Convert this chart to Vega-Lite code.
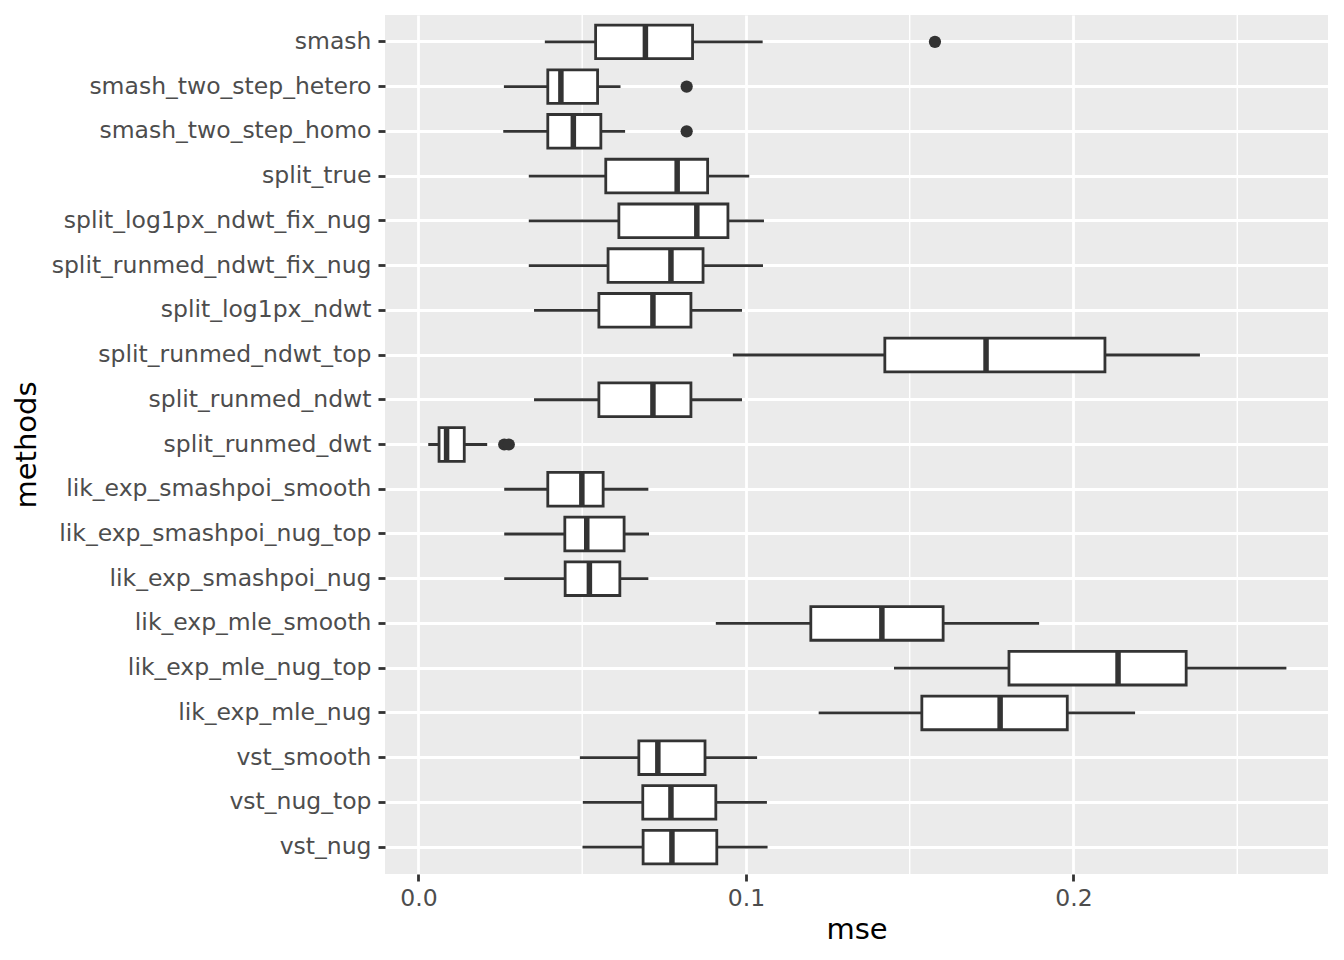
{
  "$schema": "https://vega.github.io/schema/vega-lite/v6.json",
  "width": 943,
  "height": 859,
  "autosize": "none",
  "padding": {"left": 385, "top": 15, "right": 16, "bottom": 86},
  "background": "white",
  "datasets": {
    "boxes": [
      {"method": "smash", "lo": 0.0386, "q1": 0.0541, "med": 0.0693, "q3": 0.0837, "hi": 0.1051},
      {"method": "smash_two_step_hetero", "lo": 0.0261, "q1": 0.0395, "med": 0.0435, "q3": 0.0547, "hi": 0.0617},
      {"method": "smash_two_step_homo", "lo": 0.0259, "q1": 0.0395, "med": 0.0473, "q3": 0.0557, "hi": 0.0631},
      {"method": "split_true", "lo": 0.0337, "q1": 0.0572, "med": 0.079, "q3": 0.0883, "hi": 0.101},
      {"method": "split_log1px_ndwt_fix_nug", "lo": 0.0337, "q1": 0.0612, "med": 0.085, "q3": 0.0945, "hi": 0.1055},
      {"method": "split_runmed_ndwt_fix_nug", "lo": 0.0337, "q1": 0.0579, "med": 0.0771, "q3": 0.0869, "hi": 0.1052},
      {"method": "split_log1px_ndwt", "lo": 0.0353, "q1": 0.0551, "med": 0.0716, "q3": 0.0832, "hi": 0.0988},
      {"method": "split_runmed_ndwt_top", "lo": 0.096, "q1": 0.1424, "med": 0.1733, "q3": 0.2096, "hi": 0.2386},
      {"method": "split_runmed_ndwt", "lo": 0.0353, "q1": 0.0551, "med": 0.0716, "q3": 0.0832, "hi": 0.0988},
      {"method": "split_runmed_dwt", "lo": 0.003, "q1": 0.0063, "med": 0.0086, "q3": 0.014, "hi": 0.021},
      {"method": "lik_exp_smashpoi_smooth", "lo": 0.0262, "q1": 0.0395, "med": 0.0499, "q3": 0.0564, "hi": 0.0702},
      {"method": "lik_exp_smashpoi_nug_top", "lo": 0.0262, "q1": 0.0447, "med": 0.0514, "q3": 0.0628, "hi": 0.0704},
      {"method": "lik_exp_smashpoi_nug", "lo": 0.0262, "q1": 0.0448, "med": 0.0522, "q3": 0.0615, "hi": 0.0702},
      {"method": "lik_exp_mle_smooth", "lo": 0.0908, "q1": 0.1198, "med": 0.1415, "q3": 0.1602, "hi": 0.1895},
      {"method": "lik_exp_mle_nug_top", "lo": 0.1452, "q1": 0.1803, "med": 0.2136, "q3": 0.2344, "hi": 0.265},
      {"method": "lik_exp_mle_nug", "lo": 0.1222, "q1": 0.1537, "med": 0.1776, "q3": 0.1981, "hi": 0.2188},
      {"method": "vst_smooth", "lo": 0.0493, "q1": 0.0673, "med": 0.0731, "q3": 0.0875, "hi": 0.1034},
      {"method": "vst_nug_top", "lo": 0.0502, "q1": 0.0685, "med": 0.0771, "q3": 0.0908, "hi": 0.1064},
      {"method": "vst_nug", "lo": 0.0501, "q1": 0.0686, "med": 0.0774, "q3": 0.0911, "hi": 0.1066}
    ],
    "outliers": [
      {"method": "smash", "mse": 0.1577},
      {"method": "smash_two_step_hetero", "mse": 0.0819},
      {"method": "smash_two_step_homo", "mse": 0.0819},
      {"method": "split_runmed_dwt", "mse": 0.0262},
      {"method": "split_runmed_dwt", "mse": 0.0276}
    ],
    "minor": [{"mse": 0.05}, {"mse": 0.15}, {"mse": 0.25}]
  },
  "layer": [
    {
      "data": {"name": "minor"},
      "mark": {"type": "rule", "color": "white", "strokeWidth": 1.4},
      "encoding": {"x": {"field": "mse", "type": "quantitative"}}
    },
    {
      "data": {"name": "boxes"},
      "mark": {"type": "rule", "color": "#333333", "strokeWidth": 2.8},
      "encoding": {
        "x": {"field": "lo", "type": "quantitative"},
        "x2": {"field": "hi"},
        "y": {"field": "method", "type": "nominal"}
      }
    },
    {
      "data": {"name": "boxes"},
      "mark": {"type": "bar", "fill": "white", "stroke": "#333333", "strokeWidth": 2.8, "size": 33.6},
      "encoding": {
        "x": {"field": "q1", "type": "quantitative"},
        "x2": {"field": "q3"},
        "y": {"field": "method", "type": "nominal"}
      }
    },
    {
      "data": {"name": "boxes"},
      "mark": {"type": "tick", "color": "#333333", "thickness": 5.5, "size": 33.6, "orient": "vertical", "opacity": 1},
      "encoding": {
        "x": {"field": "med", "type": "quantitative"},
        "y": {"field": "method", "type": "nominal"}
      }
    },
    {
      "data": {"name": "outliers"},
      "mark": {"type": "point", "filled": true, "color": "#333333", "size": 150, "opacity": 1},
      "encoding": {
        "x": {"field": "mse", "type": "quantitative"},
        "y": {"field": "method", "type": "nominal"}
      }
    }
  ],
  "encoding": {
    "x": {
      "type": "quantitative",
      "title": "mse",
      "scale": {"domain": [-0.0102, 0.2777], "nice": false, "zero": false},
      "axis": {"values": [0, 0.1, 0.2], "format": ".1f", "titleX": 471.5, "titleY": 64, "titleBaseline": "alphabetic", "labelPadding": 5}
    },
    "y": {
      "type": "nominal",
      "title": "methods",
      "scale": {
        "type": "band",
        "paddingInner": 0.25,
        "paddingOuter": 0.225,
        "domain": ["smash", "smash_two_step_hetero", "smash_two_step_homo", "split_true", "split_log1px_ndwt_fix_nug", "split_runmed_ndwt_fix_nug", "split_log1px_ndwt", "split_runmed_ndwt_top", "split_runmed_ndwt", "split_runmed_dwt", "lik_exp_smashpoi_smooth", "lik_exp_smashpoi_nug_top", "lik_exp_smashpoi_nug", "lik_exp_mle_smooth", "lik_exp_mle_nug_top", "lik_exp_mle_nug", "vst_smooth", "vst_nug_top", "vst_nug"]
      },
      "axis": {"bandPosition": 0.5, "titleX": -350, "titleY": 429.5, "titleAngle": -90, "titleBaseline": "alphabetic", "titleAlign": "center", "labelPadding": 7, "labelLimit": 0}
    }
  },
  "config": {
    "view": {"fill": "#EBEBEB", "stroke": null},
    "axis": {
      "domain": false,
      "grid": true,
      "gridColor": "white",
      "gridWidth": 2.8,
      "ticks": true,
      "tickColor": "#333333",
      "tickWidth": 2.8,
      "tickSize": 7,
      "labelFont": "DejaVu Sans",
      "labelFontSize": 23.5,
      "labelColor": "#4D4D4D",
      "titleFont": "DejaVu Sans",
      "titleFontSize": 29,
      "titleColor": "black",
      "titleFontWeight": "normal"
    }
  }
}
